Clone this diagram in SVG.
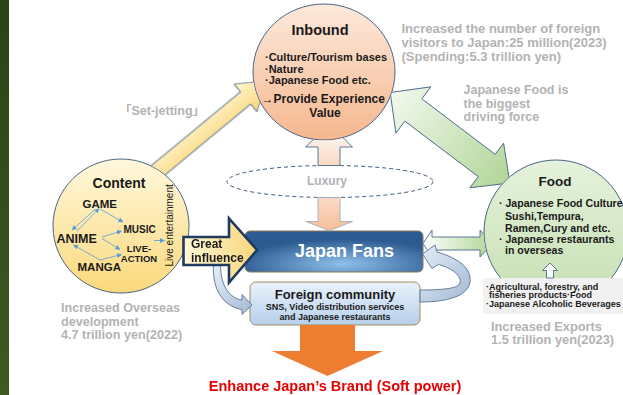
<svg xmlns="http://www.w3.org/2000/svg" width="623" height="395" viewBox="0 0 623 395">
  <defs>
    <style>
      .t { font-family: "Liberation Sans", "Noto Sans CJK JP", sans-serif; font-weight: bold; fill: #1a1a1a; }
      .note { fill: #b3b3b3; }
      .node-line { stroke: #4a6585; stroke-width: 1; }
      .block { stroke: #4a6a8a; stroke-width: 0.9; stroke-linejoin: miter; }
      .mini { stroke: #5b9bd5; stroke-width: 0.8; fill: none; marker-end: url(#mini-head); }
    </style>
    <marker id="mini-head" viewBox="0 0 6 6" refX="5.5" refY="3" markerUnits="userSpaceOnUse" markerWidth="5" markerHeight="5" orient="auto">
      <path d="M0,0 L6,3 L0,6 Z" fill="#5b9bd5"/>
    </marker>
    <linearGradient id="bar-fill" x1="0" y1="0" x2="0" y2="1">
      <stop offset="0" stop-color="#284416"/>
      <stop offset="1" stop-color="#3b5b22"/>
    </linearGradient>
    <linearGradient id="inbound-fill" x1="0" y1="0" x2="0" y2="1">
      <stop offset="0" stop-color="#fde9dc"/>
      <stop offset="1" stop-color="#f5b78e"/>
    </linearGradient>
    <linearGradient id="content-fill" x1="0" y1="0" x2="0" y2="1">
      <stop offset="0" stop-color="#fff8dd"/>
      <stop offset="1" stop-color="#fbd97c"/>
    </linearGradient>
    <linearGradient id="food-fill" x1="0" y1="0" x2="0" y2="1">
      <stop offset="0" stop-color="#e6f2dd"/>
      <stop offset="1" stop-color="#c4dfb0"/>
    </linearGradient>
    <radialGradient id="fans-fill" cx="0.55" cy="0.8" r="0.6">
      <stop offset="0" stop-color="#8fc0ea"/>
      <stop offset="1" stop-color="#2c5b92"/>
    </radialGradient>
    <linearGradient id="community-fill" x1="0" y1="0" x2="0" y2="1">
      <stop offset="0" stop-color="#eaf2fb"/>
      <stop offset="1" stop-color="#b6cfeb"/>
    </linearGradient>
    <linearGradient id="yellow-fill" x1="0" y1="0" x2="0" y2="1">
      <stop offset="0" stop-color="#fff6d2"/>
      <stop offset="1" stop-color="#f9d77a"/>
    </linearGradient>
    <linearGradient id="influence-fill" x1="0" y1="0" x2="1" y2="0">
      <stop offset="0" stop-color="#fff7d6"/>
      <stop offset="1" stop-color="#f8d77c"/>
    </linearGradient>
    <linearGradient id="green-diag" x1="0" y1="0" x2="1" y2="0">
      <stop offset="0" stop-color="#f2f8ee"/>
      <stop offset="1" stop-color="#b1d597"/>
    </linearGradient>
    <linearGradient id="green-flat" x1="0" y1="0" x2="1" y2="0">
      <stop offset="0" stop-color="#ffffff"/>
      <stop offset="1" stop-color="#b1d597"/>
    </linearGradient>
    <linearGradient id="peach-up" x1="0" y1="0" x2="0" y2="1">
      <stop offset="0" stop-color="#ffffff"/>
      <stop offset="1" stop-color="#f9d8c2"/>
    </linearGradient>
    <linearGradient id="peach-down" x1="0" y1="0" x2="0" y2="1">
      <stop offset="0" stop-color="#fbdcc8"/>
      <stop offset="1" stop-color="#f5bd98"/>
    </linearGradient>
    <linearGradient id="loop-fill" x1="0" y1="0" x2="1" y2="1">
      <stop offset="0" stop-color="#e4eef9"/>
      <stop offset="1" stop-color="#a3b9d2"/>
    </linearGradient>
    <!-- arrows that slide underneath the round nodes -->
    <mask id="under-nodes" maskUnits="userSpaceOnUse" x="0" y="0" width="623" height="395">
      <rect x="0" y="0" width="623" height="395" fill="#fff"/>
      <ellipse cx="324" cy="72" rx="71.5" ry="68.5" fill="#000"/>
      <circle cx="556" cy="232" r="72.5" fill="#000"/>
      <ellipse cx="121" cy="226" rx="68.5" ry="67.5" fill="#000"/>
    </mask>
  </defs>

  <rect x="0" y="0" width="623" height="395" fill="#ffffff"/>
  <rect x="0" y="0" width="9" height="395" fill="url(#bar-fill)"/>

  <!-- side notes -->
  <g class="t note" font-size="13">
    <text x="401.5" y="33">Increased the number of foreign</text>
    <text x="401.5" y="47">visitors to Japan:25 million(2023)</text>
    <text x="401.5" y="60.5">(Spending:5.3 trillion yen)</text>
  </g>
  <g class="t note" font-size="12.5">
    <text x="463.5" y="93.5">Japanese Food is</text>
    <text x="463.5" y="107.5">the biggest</text>
    <text x="463.5" y="121">driving force</text>
  </g>
  <text class="t note" x="119" y="115" font-size="12.5">「Set-jetting」</text>
  <g class="t note" font-size="12.6">
    <text x="61" y="311.5">Increased Overseas</text>
    <text x="61" y="325.5">development</text>
    <text x="61" y="339">4.7 trillion yen(2022)</text>
  </g>
  <g class="t note" font-size="12.8">
    <text x="491" y="330.5">Increased Exports</text>
    <text x="491" y="344">1.5 trillion yen(2023)</text>
  </g>

  <!-- Luxury -->
  <g id="luxury">
    <ellipse cx="330" cy="181.5" rx="103" ry="16" fill="#ffffff" stroke="#3d5a80" stroke-width="1" stroke-dasharray="4 3"/>
    <text class="t note" x="327" y="185" font-size="12" text-anchor="middle">Luxury</text>
  </g>

  <!-- Inbound -->
  <g id="inbound">
    <ellipse class="node-line" cx="324" cy="72" rx="71" ry="68" fill="url(#inbound-fill)"/>
    <text class="t" x="320" y="34.5" font-size="14.5" text-anchor="middle">Inbound</text>
    <g class="t" font-size="11">
      <text x="265" y="61">·Culture/Tourism bases</text>
      <text x="265" y="72.7">·Nature</text>
      <text x="265" y="84.3">·Japanese Food etc.</text>
    </g>
    <text class="t" x="261.5" y="103" font-size="12">→Provide Experience</text>
    <text class="t" x="325" y="116.5" font-size="12" text-anchor="middle">Value</text>
  </g>

  <!-- Content -->
  <g id="content">
    <ellipse class="node-line" cx="121" cy="226" rx="68" ry="67" fill="url(#content-fill)"/>
    <text class="t" x="119" y="188" font-size="14" text-anchor="middle">Content</text>
    <text class="t" x="82.5" y="207.5" font-size="11.5">GAME</text>
    <text class="t" x="56.5" y="242.5" font-size="12.5">ANIME</text>
    <text class="t" x="77.5" y="271" font-size="11.5">MANGA</text>
    <text class="t" x="123.5" y="232.5" font-size="10">MUSIC</text>
    <text class="t" x="139" y="251.5" font-size="9.5" text-anchor="middle">LIVE-</text>
    <text class="t" x="139" y="261.5" font-size="9.5" text-anchor="middle">ACTION</text>
    <text class="t" transform="translate(173 266.5) rotate(-90)" font-size="10" style="font-weight:normal">Live entertainment</text>
    <path class="mini" d="M77,231 L99,208.5"/>
    <path class="mini" d="M95,209.5 L72,230"/>
    <path class="mini" d="M100,209 L123,222"/>
    <path class="mini" d="M102,237 L121.5,231"/>
    <path class="mini" d="M102,238.5 L120,249.5"/>
    <path class="mini" d="M100,260 L73.5,245"/>
    <path class="mini" d="M100,260 L121.5,254.5"/>
    <path class="mini" d="M154,240.5 L164.5,240.5"/>
  </g>

  <!-- Food -->
  <g id="food">
    <circle class="node-line" cx="556" cy="232" r="72" fill="url(#food-fill)"/>
    <text class="t" x="555" y="186" font-size="13.5" text-anchor="middle">Food</text>
    <g class="t" font-size="10.6">
      <text x="499" y="206.7">· Japanese Food Culture</text>
      <text x="505" y="220">Sushi,Tempura,</text>
      <text x="505" y="231.5">Ramen,Cury and etc.</text>
      <text x="499" y="242.7">· Japanese restaurants</text>
      <text x="505" y="253.5">in overseas</text>
    </g>
  </g>

  <!-- export goods -->
  <g id="exports">
    <rect x="483" y="278" width="140" height="36" fill="#f1f1f1"/>
    <g class="t" font-size="9">
      <text x="486" y="289.5">·Agricultural, forestry, and</text>
      <text x="489" y="298">fisheries products·Food</text>
      <text x="486" y="306.5">·Japanese Alcoholic Beverages</text>
    </g>
  </g>

  <!-- Japan Fans -->
  <g id="japan-fans">
    <rect x="245" y="231" width="178" height="41" rx="5" fill="url(#fans-fill)" stroke="#8b7b55" stroke-width="1"/>
    <text class="t" x="295" y="257" font-size="18" style="fill:#ffffff">Japan Fans</text>
  </g>

  <!-- Foreign community -->
  <g id="foreign-community">
    <rect x="250" y="282" width="170" height="43" rx="6" fill="url(#community-fill)" stroke="#a08d5f" stroke-width="1"/>
    <text class="t" x="335" y="299" font-size="13" text-anchor="middle">Foreign community</text>
    <text class="t" x="335" y="309.5" font-size="9" text-anchor="middle">SNS, Video distribution services</text>
    <text class="t" x="335" y="319.5" font-size="9" text-anchor="middle">and Japanese restaurants</text>
  </g>

  <!-- connectors -->
  <g id="connectors">
    <g mask="url(#under-nodes)">
      <!-- Content to Inbound -->
      <path class="block" transform="translate(158.5 170) rotate(-39.6)" fill="url(#yellow-fill)" d="M-8,-8 L113,-8 L113,-18 L140,0 L113,18 L113,8 L-8,8 Z"/>
      <!-- Inbound and Food -->
      <path class="block" transform="translate(393.4 94.9) rotate(37.1)" fill="url(#green-diag)" d="M-4,0 L25,-29 L25,-14 L117,-14 L117,-28 L146,0 L117,28 L117,14 L25,14 L25,29 Z"/>
      <!-- Luxury to Inbound -->
      <path class="block" fill="url(#peach-up)" d="M329,124 L352.5,147 L340,147 L340,165.5 L318,165.5 L318,147 L305.5,147 Z"/>
      <!-- Japan Fans and Food -->
      <path class="block" fill="url(#green-flat)" d="M423,243.5 L432,230 L432,237 L480,237 L480,230 L492,243.5 L480,257 L480,250 L432,250 L432,257 Z"/>
    </g>
    <!-- Luxury to Japan Fans -->
    <path fill="url(#peach-down)" stroke="#9aa6b6" stroke-width="0.8" d="M318,197.5 L340,197.5 L340,221.5 L352.5,221.5 L329.3,230.7 L306,221.5 L318,221.5 Z"/>
    <!-- export goods to Food -->
    <path class="block" fill="#ffffff" d="M550,263 L557.5,270.5 L553.5,270.5 L553.5,278 L546.5,278 L546.5,270.5 L542.5,270.5 Z"/>
    <!-- Foreign community back to Japan Fans -->
    <path fill="url(#loop-fill)" stroke="#5a7090" stroke-width="0.9" d="M420,290 C440,290 458,289 460,283 C462,276 452,268 438.5,264.5 L432,268.5 L422.5,254 L435,245 L437,252 C458,258 472,268 470,282 C468,296 448,302 420,302 Z"/>
    <!-- Great influence to Foreign community -->
    <path fill="url(#loop-fill)" stroke="#5a7090" stroke-width="0.9" d="M213.5,265 C212,288 222,306 242,309.5 L242,314.5 L252,305 L242,294.5 L242,300 C229,298 220.5,285 220.5,265 Z"/>
    <!-- Great influence -->
    <g id="great-influence">
      <path fill="url(#influence-fill)" stroke="#1f3a5e" stroke-width="2.6" stroke-linejoin="miter" d="M183.5,237 L229,237 L229,218.5 L257,250 L229,282.5 L229,265 L183.5,265 Z"/>
      <text class="t" x="191" y="247.5" font-size="12">Great</text>
      <text class="t" x="191" y="262" font-size="12">influence</text>
    </g>
    <!-- Foreign community to the brand -->
    <path fill="#ed7d31" d="M300,325 L355,325 L355,351 L383,351 L327.5,376 L272,351 L300,351 Z"/>
  </g>

  <text class="t" x="335" y="391" font-size="14.5" text-anchor="middle" style="fill:#e60000">Enhance Japan’s Brand (Soft power)</text>
</svg>
